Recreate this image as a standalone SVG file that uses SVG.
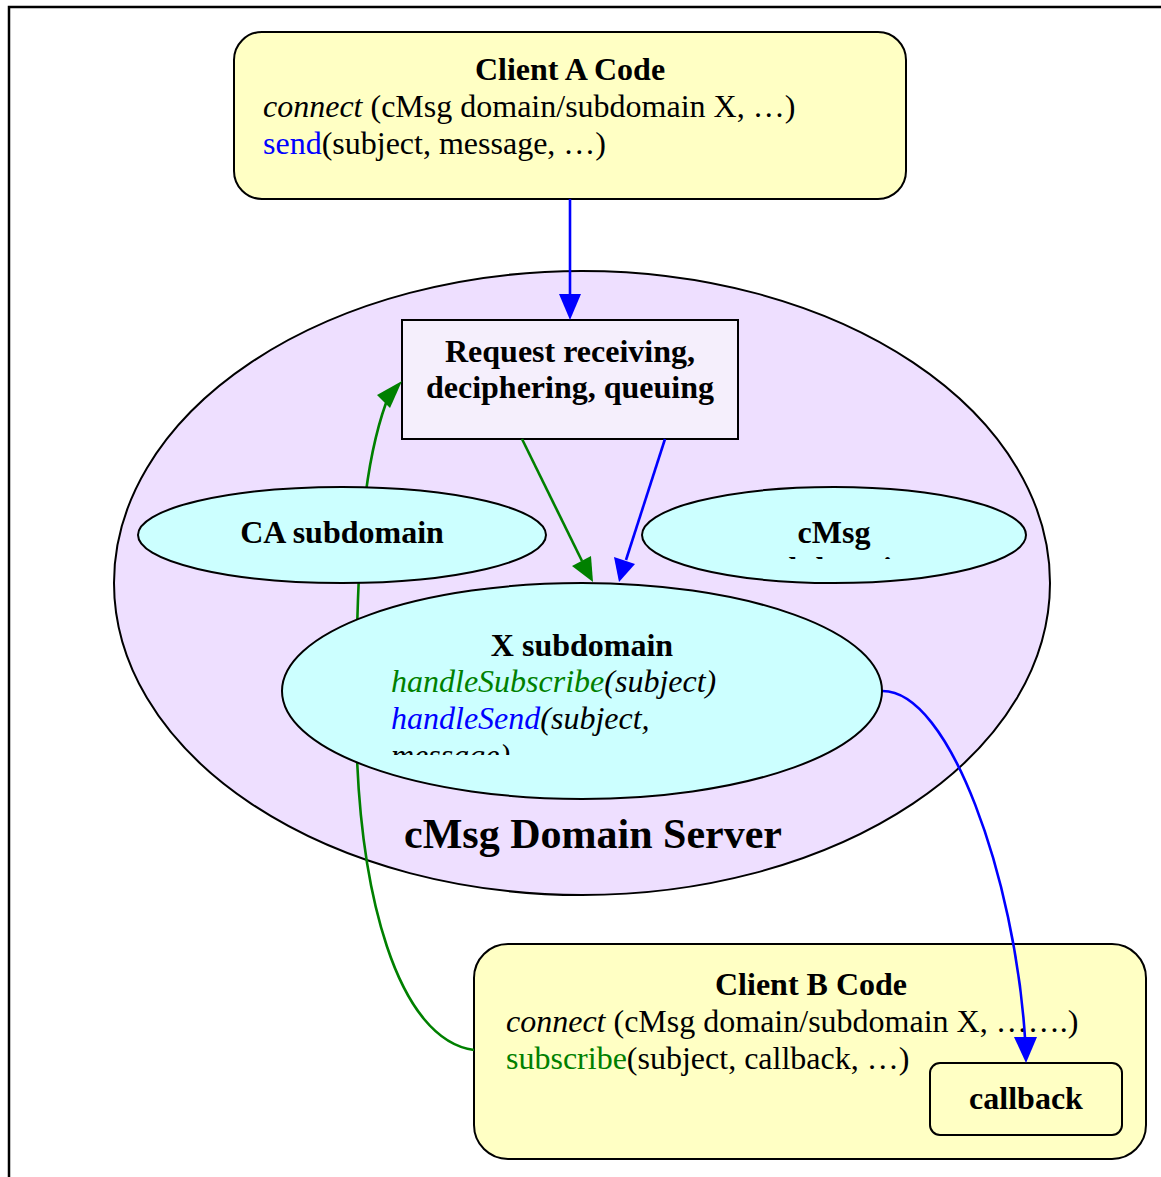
<svg xmlns="http://www.w3.org/2000/svg" width="1161" height="1177" viewBox="0 0 1161 1177">
<style>
text{font-family:"Liberation Serif","Times New Roman",serif;font-size:32px;fill:#000}
.b{font-weight:bold}
.i{font-style:italic}
.c{text-anchor:middle}
.g{fill:#008000}
.bl{fill:#0000ff}
.node{stroke:#000;stroke-width:2}
.yel{fill:#ffffc4}
.cy{fill:#ccffff}
.eg{stroke:#008000;stroke-width:2.6;fill:none}
.eb{stroke:#0000ff;stroke-width:2.6;fill:none}
</style>
<defs>
<clipPath id="clipC"><rect x="600" y="480" width="450" height="79"/></clipPath>
<clipPath id="clipX"><rect x="280" y="580" width="610" height="175"/></clipPath>
</defs>
<path d="M9,1177 L9,7 L1161,7" fill="none" stroke="#000" stroke-width="2.5"/>
<g id="clientA">
<rect class="node yel" x="234" y="32" width="672" height="167" rx="28"/>
<text class="b c" x="570" y="80">Client A Code</text>
<text x="263" y="117"><tspan class="i">connect</tspan> (cMsg domain/subdomain X, …)</text>
<text x="263" y="154"><tspan class="bl">send</tspan>(subject, message, …)</text>
</g>
<g id="server">
<ellipse class="node" cx="582" cy="583" rx="468" ry="312" fill="#eedfff"/>
<text class="b c" x="593" y="848" style="font-size:42px">cMsg Domain Server</text>
</g>
<g id="request">
<rect class="node" x="402" y="320" width="336" height="119" fill="#f5effc"/>
<text class="b c" x="570" y="362">Request receiving,</text>
<text class="b c" x="570" y="398">deciphering, queuing</text>
</g>
<g id="clientB">
<rect class="node yel" x="474" y="944" width="672" height="215" rx="34"/>
<text class="b c" x="811" y="995">Client B Code</text>
<text x="506" y="1032"><tspan class="i">connect</tspan> (cMsg domain/subdomain X, …….)</text>
<text x="506" y="1069"><tspan class="g">subscribe</tspan>(subject, callback, …)</text>
</g>
<g id="callback">
<rect class="node yel" x="930" y="1063" width="192" height="72" rx="10"/>
<text class="b c" x="1026" y="1109">callback</text>
</g>
<g id="connectors">
<path class="eb" d="M570,199 L570,296"/>
<path d="M570,320 L559,294 L581,294 z" fill="#0000ff"/>
<path class="eg" d="M522,439 L582,561"/>
<path d="M593,582 L572,566 L591,556 z" fill="#008000"/>
<path class="eb" d="M665,439 L626,560"/>
<path d="M619,582 L614,557 L635,564 z" fill="#0000ff"/>
<path class="eg" d="M474,1050 C400,1040 355,900 356,700 C357,560 362,470 386,403"/>
<path d="M402,381 L377,395 L390,408 z" fill="#008000"/>
<path class="eb" d="M882,691 C950,690 1015,880 1025,1038"/>
<path d="M1026,1063 L1014,1037 L1037,1037 z" fill="#0000ff"/>
</g>
<g id="caSub">
<ellipse class="node cy" cx="342" cy="535" rx="204" ry="48"/>
<text class="b c" x="342" y="543">CA subdomain</text>
</g>
<g id="cmsgSub">
<ellipse class="node cy" cx="834" cy="535" rx="192" ry="48"/>
<g clip-path="url(#clipC)">
<text class="b c" x="834" y="543">cMsg</text>
<text class="b c" x="834" y="579">subdomain</text>
</g>
</g>
<g id="xSub">
<ellipse class="node cy" cx="582" cy="691" rx="300" ry="108"/>
<g clip-path="url(#clipX)">
<text class="b c" x="582" y="656">X subdomain</text>
<text class="i" x="391" y="692"><tspan class="g">handleSubscribe</tspan>(subject)</text>
<text class="i" x="391" y="729"><tspan class="bl">handleSend</tspan>(subject,</text>
<text class="i" x="391" y="766">message)</text>
</g>
</g>
</svg>
